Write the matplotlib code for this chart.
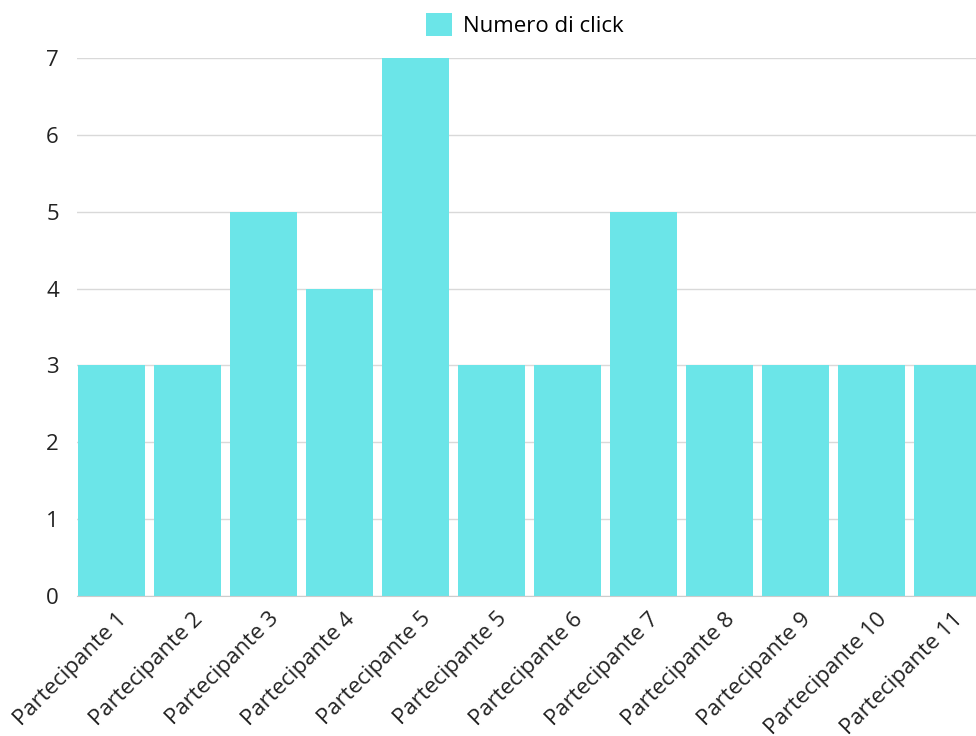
import matplotlib.pyplot as plt
from matplotlib.transforms import ScaledTranslation

plt.rcParams['font.family'] = ['Open Sans', 'DejaVu Sans']

# dati
partecipanti = ['Partecipante 1', 'Partecipante 2', 'Partecipante 3', 'Partecipante 4',
                'Partecipante 5', 'Partecipante 5', 'Partecipante 6', 'Partecipante 7',
                'Partecipante 8', 'Partecipante 9', 'Partecipante 10', 'Partecipante 11']
click = [3, 3, 5, 4, 7, 3, 3, 5, 3, 3, 3, 3]

fig = plt.figure(figsize=(9.76, 7.36), dpi=100)
ax = fig.add_axes([77 / 976, 140 / 736, 899 / 976, 538 / 736])

x = range(len(click))
ax.bar(x, click, width=0.88, color='#6be5e8', label='Numero di click', zorder=3)

ax.set_ylim(0, 7)
ax.set_xlim(-0.454, 11.375)
ax.set_yticks(range(8))
ax.yaxis.grid(True, color='#d9d9d9', lw=1, zorder=0)
ax.set_axisbelow(True)
ax.set_xticks(list(x))
ax.set_xticklabels(partecipanti, rotation=45, ha='right', va='top', rotation_mode='anchor')
ax.tick_params(axis='both', length=0, labelsize=16, colors='#222222')
ax.tick_params(axis='y', pad=13)
ax.tick_params(axis='x', pad=9)

# sposto un po' le etichette a destra
off = ScaledTranslation(5 / 100, 0, fig.dpi_scale_trans)
for lab in ax.get_xticklabels():
    lab.set_transform(lab.get_transform() + off)

for s in ['top', 'right', 'left']:
    ax.spines[s].set_visible(False)
ax.spines['bottom'].set_color('#cccccc')
ax.spines['bottom'].set_zorder(4)

leg = ax.legend(loc='center', frameon=False, fontsize=16, handlelength=1.17, handleheight=1.17,
                handletextpad=0.5)
leg.set_bbox_to_anchor((525 / 976, 1 - 25 / 736), transform=fig.transFigure)

fig.savefig('out.png', dpi=100)
